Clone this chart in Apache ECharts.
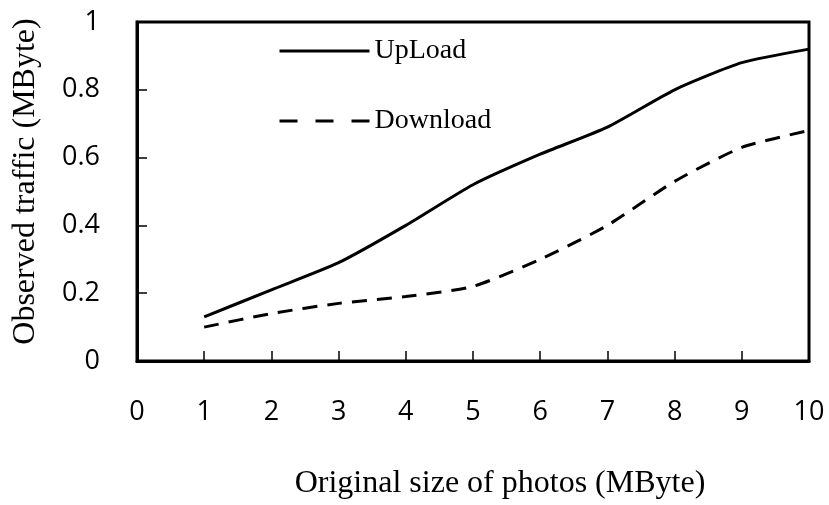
<!DOCTYPE html>
<html><head><meta charset="utf-8">
<script src="https://cdn.jsdelivr.net/npm/echarts@6/dist/echarts.min.js"></script>
<style>html,body{margin:0;padding:0;background:#fff}#c{width:829px;height:505px}</style>
</head><body><div id="c"></div>
<script>
const xValues = [1, 2, 3, 4, 5, 6, 7, 8, 9, 10];
const upload = [0.13, 0.21, 0.29, 0.40, 0.52, 0.61, 0.69, 0.80, 0.88, 0.92];
const download = [0.10, 0.14, 0.17, 0.19, 0.22, 0.30, 0.40, 0.53, 0.63, 0.68];
const xTitle = 'Original size of photos (MByte)';
const yTitle = 'Observed traffic (MByte)';

const chart = echarts.init(document.getElementById('c'));
const tickFont = {fontFamily: 'Open Sans', fontSize: 27, color: '#000'};
chart.setOption({
  animation: false,
  grid: {left: 137, right: 20, top: 22, bottom: 136, show: true, borderColor: '#000', borderWidth: 3},
  legend: {
    orient: 'vertical', left: 273, top: 32, itemGap: 42, itemWidth: 90, itemHeight: 20,
    itemStyle: {opacity: 0},
    lineStyle: {width: 3, color: '#000'},
    textStyle: {fontFamily: 'Liberation Serif', fontSize: 28, color: '#000'},
    data: [{name: 'UpLoad'}, {name: 'Download', lineStyle: {width: 3, type: [18, 18]}}]
  },
  xAxis: {
    type: 'value', min: 0, max: 10, interval: 1,
    name: xTitle, nameLocation: 'middle', nameGap: 107,
    nameTextStyle: {fontFamily: 'Liberation Serif', fontSize: 32, color: '#000', padding: [0, 0, 0, 54]},
    axisLine: {show: true, lineStyle: {color: '#000', width: 3}},
    axisTick: {show: true, inside: true, length: 10, lineStyle: {color: '#000', width: 1.5}},
    axisLabel: Object.assign({margin: 38}, tickFont),
    splitLine: {show: false}
  },
  yAxis: {
    type: 'value', min: 0, max: 1, interval: 0.2,
    name: yTitle, nameLocation: 'middle', nameGap: 95,
    nameTextStyle: {fontFamily: 'Liberation Serif', fontSize: 32, color: '#000', padding: [0, 0, 0, 20]},
    axisLine: {show: true, lineStyle: {color: '#000', width: 3}},
    axisTick: {show: true, inside: true, length: 10, lineStyle: {color: '#000', width: 1.5}},
    axisLabel: Object.assign({margin: 37, formatter: v => String(Math.round(v*10)/10)}, tickFont),
    splitLine: {show: false}
  },
  series: [
    {name: 'UpLoad', type: 'line', symbol: 'none', smooth: 0.2,
     data: xValues.map((x, i) => [x, upload[i]]),
     lineStyle: {color: '#000', width: 3}, itemStyle: {color: '#000'}},
    {name: 'Download', type: 'line', symbol: 'none', smooth: 0.2,
     data: xValues.map((x, i) => [x, download[i]]),
     lineStyle: {color: '#000', width: 3, type: [15, 10]}, itemStyle: {color: '#000'}}
  ]
});
</script></body></html>
